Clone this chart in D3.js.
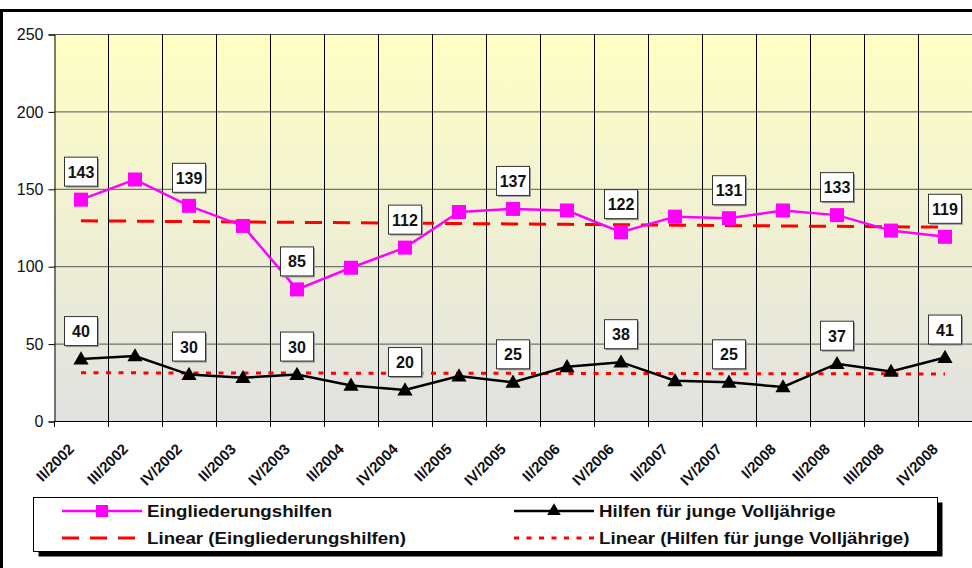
<html>
<head>
<script src="https://d3js.org/d3.v7.min.js"></script>
<style>
body { margin: 0; background: white; }
svg text { font-family: "Liberation Sans", Arial, sans-serif; }
</style>
</head>
<body>
<svg id="chart" width="972" height="568"></svg>
<script>
// quarter labels as printed on the x axis
var quarters = ["II/2002","III/2002","IV/2002","II/2003","IV/2003","II/2004","IV/2004","II/2005",
                "IV/2005","II/2006","IV/2006","II/2007","IV/2007","I/2008","II/2008","III/2008","IV/2008"];
var eingliederung = [143,156,139,126,85,99,112,135,137,136,122,132,131,136,133,123,119];
var volljaehrige  = [40,42,30,28,30,23,20,29,25,35,38,26,25,22,37,32,41];
var yTicks = [0,50,100,150,200,250];

var svg = d3.select("#chart");

var x = d3.scaleBand().domain(quarters).range([54, 972]);
var y = d3.scaleLinear().domain([0, 250]).range([421, 34]);
function cx(d) { return x(d) + x.bandwidth() / 2; }

// least squares trend, like excel's "Linear" trendline
function trend(vals) {
  var n = vals.length, sx = 0, sy = 0, sxy = 0, sxx = 0;
  vals.forEach(function(v, i) { sx += i; sy += v; sxy += i * v; sxx += i * i; });
  var b = (n * sxy - sx * sy) / (n * sxx - sx * sx);
  var a = (sy - b * sx) / n;
  return vals.map(function(v, i) { return a + b * i; });
}

var longDash = "17,11", dotDash = "5,7.5";

// chart border
svg.append("rect").attr("x", 1.5).attr("y", 10.5).attr("width", 990).attr("height", 600)
  .attr("fill", "white").attr("stroke", "black").attr("stroke-width", 3);

var defs = svg.append("defs");
var grad = defs.append("linearGradient").attr("id", "bg").attr("x1", 0).attr("y1", 0).attr("x2", 0).attr("y2", 1);
grad.append("stop").attr("offset", "0%").attr("stop-color", "#FFFFC4");
grad.append("stop").attr("offset", "100%").attr("stop-color", "#E1E1E1");

svg.append("rect").attr("x", 54).attr("y", y(250)).attr("width", 918).attr("height", y(0) - y(250))
  .attr("fill", "url(#bg)");

// horizontal gridlines
svg.append("g").selectAll("line").data(yTicks.slice(1)).enter().append("line")
  .attr("x1", 54).attr("x2", 972).attr("y1", function(d) { return y(d) + 0.5; }).attr("y2", function(d) { return y(d) + 0.5; })
  .attr("stroke", "#555").attr("stroke-width", 1);

// vertical gridlines at category boundaries
svg.append("g").selectAll("line").data(quarters.slice(1)).enter().append("line")
  .attr("x1", function(d) { return Math.round(x(d)) + 0.5; }).attr("x2", function(d) { return Math.round(x(d)) + 0.5; })
  .attr("y1", y(250)).attr("y2", y(0))
  .attr("stroke", "black").attr("stroke-width", 1);

// y axis
var yAxis = svg.append("g").attr("transform", "translate(54.5,0.5)")
  .call(d3.axisLeft(y).tickValues(yTicks).tickSize(6).tickPadding(5));
yAxis.select(".domain").attr("stroke", "black");
yAxis.selectAll("text").style("font-size", "16px").attr("fill", "#111");

// x axis: ticks at boundaries
var xg = svg.append("g");
xg.append("line").attr("x1", 54).attr("x2", 972).attr("y1", y(0) + 0.5).attr("y2", y(0) + 0.5).attr("stroke", "black");
xg.selectAll(".tk").data(quarters.concat(["end"])).enter().append("line")
  .attr("x1", function(d, i) { return Math.round(54 + i * x.bandwidth()) + 0.5; })
  .attr("x2", function(d, i) { return Math.round(54 + i * x.bandwidth()) + 0.5; })
  .attr("y1", y(0)).attr("y2", y(0) + 6).attr("stroke", "black");
xg.selectAll("text").data(quarters).enter().append("text")
  .attr("transform", function(d) { return "translate(" + (cx(d) - 6) + ",450) rotate(-45)"; })
  .attr("text-anchor", "end")
  .style("font-size", "15px").style("font-weight", "bold").attr("fill", "#111")
  .text(function(d) { return d; });

// trendlines
var line = d3.line().x(function(d, i) { return cx(quarters[i]); }).y(function(d) { return y(d); });
svg.append("path").datum(trend(eingliederung)).attr("d", line)
  .attr("fill", "none").attr("stroke", "#FF0000").attr("stroke-width", 3).attr("stroke-dasharray", longDash);
svg.append("path").datum(trend(volljaehrige)).attr("d", line)
  .attr("fill", "none").attr("stroke", "#FF0000").attr("stroke-width", 3).attr("stroke-dasharray", dotDash);

// series lines
svg.append("path").datum(eingliederung).attr("d", line)
  .attr("fill", "none").attr("stroke", "#FF00FF").attr("stroke-width", 2.5);
svg.append("path").datum(volljaehrige).attr("d", line)
  .attr("fill", "none").attr("stroke", "black").attr("stroke-width", 2.5);

// markers
svg.append("g").selectAll("rect").data(eingliederung).enter().append("rect")
  .attr("x", function(d, i) { return cx(quarters[i]) - 7; })
  .attr("y", function(d) { return y(d) - 7; })
  .attr("width", 14).attr("height", 14).attr("fill", "#FF00FF");

var tri = d3.symbol().type(d3.symbolTriangle).size(100);
svg.append("g").selectAll("path").data(volljaehrige).enter().append("path")
  .attr("d", tri)
  .attr("transform", function(d, i) { return "translate(" + cx(quarters[i]) + "," + (y(d) + 1) + ")"; })
  .attr("fill", "black");

// value labels on every second point
function labels(vals) {
  var g = svg.append("g");
  var sel = g.selectAll("g").data(vals.filter(function(d, i) { return i % 2 === 0; })).enter().append("g")
    .attr("transform", function(d, i) { return "translate(" + cx(quarters[i * 2]) + "," + (y(d) - 28) + ")"; });
  sel.append("rect").attr("x", -15).attr("y", -13).attr("width", 33).attr("height", 29).attr("fill", "#999");
  sel.append("rect").attr("x", -16.5).attr("y", -14.5).attr("width", 33).attr("height", 29)
    .attr("fill", "white").attr("stroke", "#333").attr("stroke-width", 1);
  sel.append("text").attr("text-anchor", "middle").attr("y", 6)
    .style("font-size", "16px").style("font-weight", "bold").attr("fill", "#111")
    .text(function(d) { return d; });
}
labels(eingliederung);
labels(volljaehrige);

// legend
var lg = svg.append("g");
lg.append("rect").attr("x", 38.5).attr("y", 502.5).attr("width", 904).attr("height", 54).attr("fill", "black");
lg.append("rect").attr("x", 33.5).attr("y", 497.5).attr("width", 904).attr("height", 54)
  .attr("fill", "white").attr("stroke", "black").attr("stroke-width", 1);

var legendItems = [
  {name: "Eingliederungshilfen", x: 62, y: 511, color: "#FF00FF", dash: null, marker: "square"},
  {name: "Hilfen für junge Volljährige", x: 514, y: 511, color: "black", dash: null, marker: "triangle"},
  {name: "Linear (Eingliederungshilfen)", x: 62, y: 538, color: "#FF0000", dash: longDash, marker: null},
  {name: "Linear (Hilfen für junge Volljährige)", x: 514, y: 538, color: "#FF0000", dash: dotDash, marker: null}
];
legendItems.forEach(function(it) {
  lg.append("line").attr("x1", it.x).attr("x2", it.x + 80).attr("y1", it.y).attr("y2", it.y)
    .attr("stroke", it.color).attr("stroke-width", it.dash ? 3 : 2.5)
    .attr("stroke-dasharray", it.dash);
  if (it.marker === "square") {
    lg.append("rect").attr("x", it.x + 34).attr("y", it.y - 6).attr("width", 12).attr("height", 12).attr("fill", it.color);
  } else if (it.marker === "triangle") {
    lg.append("path").attr("d", d3.symbol().type(d3.symbolTriangle).size(80))
      .attr("transform", "translate(" + (it.x + 40) + "," + (it.y) + ")").attr("fill", it.color);
  }
  lg.append("text").attr("transform", "translate(" + (it.x + 85) + "," + (it.y + 6) + ") scale(1.17,1)")
    .style("font-size", "16px").style("font-weight", "bold").attr("fill", "#111")
    .text(it.name);
});
</script>
</body>
</html>
